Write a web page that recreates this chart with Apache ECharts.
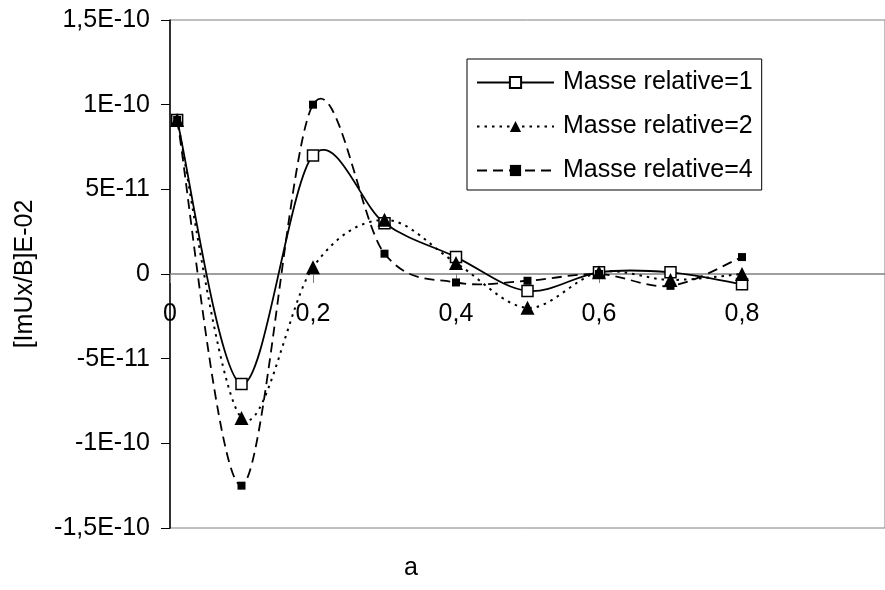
<!DOCTYPE html>
<html>
<head>
<meta charset="utf-8">
<script src="https://cdn.jsdelivr.net/npm/echarts@6/dist/echarts.min.js"></script>
<style>
  html, body { margin: 0; padding: 0; background: #fff; }
  #chart { width: 885px; height: 590px; }
</style>
</head>
<body>
<div id="chart"></div>
<script>
// Abscissa values a
const aValues = [0.01, 0.1, 0.2, 0.3, 0.4, 0.5, 0.6, 0.7, 0.8];
// [ImUx/B]E-02 for each relative mass
const masse1 = [9.1e-11, -6.5e-11, 7.0e-11, 3.0e-11, 1.0e-11, -1.0e-11, 1.0e-12, 1.0e-12, -6.0e-12];
const masse2 = [9.1e-11, -8.5e-11, 4.0e-12, 3.2e-11, 6.5e-12, -2.0e-11, 1.0e-12, -3.5e-12, 0];
const masse4 = [9.1e-11, -1.25e-10, 1.0e-10, 1.2e-11, -5.0e-12, -4.0e-12, 0, -7.0e-12, 1.0e-11];
const seriesNames = ['Masse relative=1', 'Masse relative=2', 'Masse relative=4'];

const FONT = '"Liberation Sans", Arial, sans-serif';

const GRID_TOP = 20;
const GRID_BOTTOM = 62;
const CHART_H = 590;

function pairs(ys) {
  return aValues.map((x, i) => [x, ys[i]]);
}

function sciLabel(v) {
  if (Math.abs(v) < 1e-15) return '0';
  let e = Math.floor(Math.log10(Math.abs(v)) + 1e-9);
  let m = Math.round(v / Math.pow(10, e) * 10) / 10;
  if (Math.abs(m) >= 10) { m = m / 10; e += 1; }
  const ms = String(m).replace('.', ',');
  const es = (e < 0 ? '-' : '+') + String(Math.abs(e)).padStart(2, '0');
  return ms + 'E' + es;
}

// The x axis crosses the y axis at zero, which lies midway in the symmetric y range
const plotH = CHART_H - GRID_TOP - GRID_BOTTOM;
const xAxisOffset = -plotH / 2;

// Smoothed curve through the data points (cardinal Bezier, tangent = (next - prev) / 6),
// computed in pixel space from the axis scales.
function smoothCurve(ys) {
  return function (params, api) {
    if (params.dataIndex !== 0) return null;
    const p = aValues.map((x, i) => api.coord([x, ys[i]]));
    const n = p.length;
    let d = 'M' + p[0][0] + ' ' + p[0][1];
    for (let i = 0; i < n - 1; i++) {
      const p0 = p[Math.max(i - 1, 0)];
      const p1 = p[i];
      const p2 = p[i + 1];
      const p3 = p[Math.min(i + 2, n - 1)];
      const c1x = p1[0] + (p2[0] - p0[0]) / 6;
      const c1y = p1[1] + (p2[1] - p0[1]) / 6;
      const c2x = p2[0] - (p3[0] - p1[0]) / 6;
      const c2y = p2[1] - (p3[1] - p1[1]) / 6;
      d += ' C' + c1x + ' ' + c1y + ' ' + c2x + ' ' + c2y + ' ' + p2[0] + ' ' + p2[1];
    }
    return {
      type: 'path',
      shape: { pathData: d },
      style: this.style
    };
  };
}

const curveStyles = [
  { fill: null, stroke: '#000', lineWidth: 1.8 },
  { fill: null, stroke: '#000', lineWidth: 2, lineDash: [2.5, 5] },
  { fill: null, stroke: '#000', lineWidth: 1.8, lineDash: [10, 6] }
];
const legendLines = [
  { color: '#000', width: 1.8, type: 'solid', opacity: 1 },
  { color: '#000', width: 2, type: [2.5, 5], opacity: 1 },
  { color: '#000', width: 1.8, type: [10, 6], opacity: 1 }
];
const values = [masse1, masse2, masse4];

function curveSeries(k) {
  return {
    type: 'custom',
    name: 'courbe ' + (k + 1),
    coordinateSystem: 'cartesian2d',
    data: pairs(values[k]),
    z: 2,
    silent: true,
    renderItem: smoothCurve(values[k]).bind({ style: curveStyles[k] })
  };
}

const chart = echarts.init(document.getElementById('chart'), null, { renderer: 'canvas' });

chart.setOption({
  animation: false,
  backgroundColor: '#fff',
  textStyle: { fontFamily: FONT },
  grid: {
    left: 170, top: GRID_TOP, right: -10, bottom: GRID_BOTTOM,
    show: true, borderColor: '#808080', borderWidth: 1, backgroundColor: 'transparent'
  },
  legend: {
    orient: 'vertical',
    left: 467, top: 59,
    padding: [11, 9, 7, 9],
    itemWidth: 77, itemHeight: 14, itemGap: 19,
    borderColor: '#000', borderWidth: 1, backgroundColor: '#fff',
    textStyle: { fontFamily: FONT, fontSize: 25, color: '#000', padding: [0, 0, 0, 4] },
    data: seriesNames.map((name, k) => ({ name: name, lineStyle: legendLines[k] }))
  },
  xAxis: {
    type: 'value',
    min: 0, max: 1, interval: 0.2,
    position: 'bottom',
    offset: xAxisOffset,
    axisLine: { onZero: false, lineStyle: { color: '#808080', width: 1.5 } },
    axisTick: { show: true, length: 9, lineStyle: { color: '#808080' } },
    splitLine: { show: false },
    axisLabel: {
      fontFamily: FONT, fontSize: 25, color: '#000', margin: 28,
      showMaxLabel: false,
      formatter: v => String(Math.round(v * 10) / 10).replace('.', ',')
    }
  },
  yAxis: {
    type: 'value',
    min: -1.5e-10, max: 1.5e-10, interval: 5e-11,
    name: '[ImUx/B]E-02',
    nameLocation: 'middle',
    nameGap: 132,
    nameTextStyle: { fontFamily: FONT, fontSize: 25, color: '#000' },
    axisLine: { show: true, lineStyle: { color: '#000', width: 1.5 } },
    axisTick: { show: true, length: 9, lineStyle: { color: '#000' } },
    splitLine: { show: false },
    axisLabel: { fontFamily: FONT, fontSize: 25, color: '#000', margin: 20, formatter: sciLabel }
  },
  graphic: [{
    type: 'text',
    left: 404, top: 556,
    style: { text: 'a', font: '25px ' + FONT, fill: '#000' }
  }],
  series: [
    curveSeries(0),
    curveSeries(1),
    curveSeries(2),
    {
      type: 'line',
      name: seriesNames[0],
      data: pairs(masse1),
      z: 3,
      symbol: 'rect', symbolSize: 11,
      itemStyle: { color: '#fff', borderColor: '#000', borderWidth: 1.5 },
      lineStyle: { color: '#000', width: 1.8, opacity: 0 }
    },
    {
      type: 'line',
      name: seriesNames[1],
      data: pairs(masse2),
      z: 3,
      symbol: 'triangle', symbolSize: 14,
      itemStyle: { color: '#000', borderColor: '#000', borderWidth: 0 },
      lineStyle: { color: '#000', width: 2, opacity: 0 }
    },
    {
      type: 'line',
      name: seriesNames[2],
      data: pairs(masse4),
      z: 3,
      symbol: 'rect', symbolSize: 8,
      itemStyle: { color: '#000', borderColor: '#000', borderWidth: 0 },
      lineStyle: { color: '#000', width: 1.8, opacity: 0 }
    }
  ]
});
</script>
</body>
</html>
